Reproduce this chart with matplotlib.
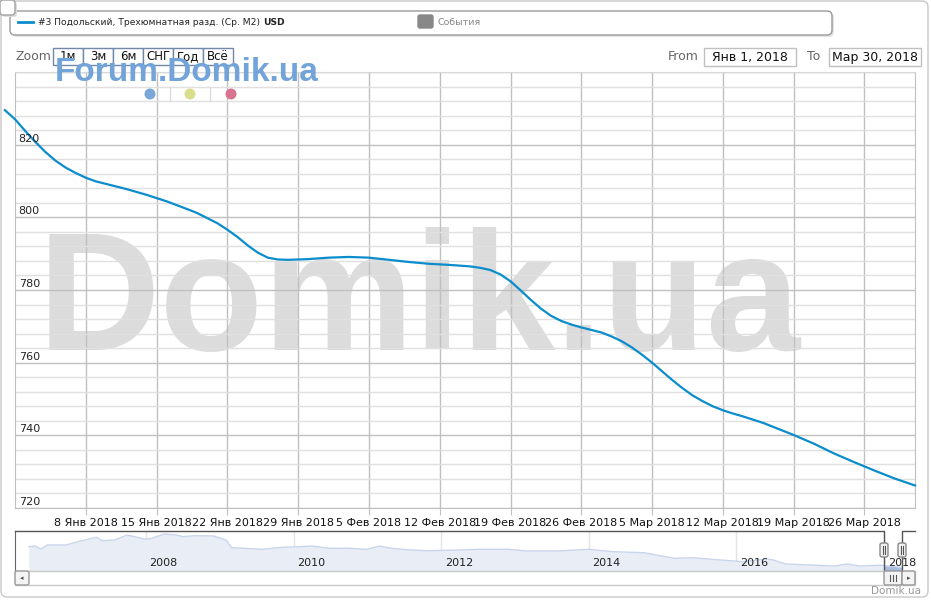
import matplotlib
matplotlib.use('Agg')
import matplotlib.pyplot as plt
import matplotlib.dates as mdates
from matplotlib.patches import FancyBboxPatch, Circle
from matplotlib.transforms import IdentityTransform
import pandas as pd

# main series, USD per m2
dates = ['2017-12-31', '2018-01-01', '2018-01-02', '2018-01-03', '2018-01-04', '2018-01-05',
         '2018-01-06', '2018-01-07', '2018-01-08', '2018-01-09', '2018-01-10', '2018-01-12',
         '2018-01-14', '2018-01-16', '2018-01-18', '2018-01-19', '2018-01-20', '2018-01-21',
         '2018-01-22', '2018-01-23', '2018-01-24', '2018-01-25', '2018-01-26', '2018-01-27',
         '2018-01-28', '2018-01-30', '2018-02-01', '2018-02-03', '2018-02-05', '2018-02-07',
         '2018-02-09', '2018-02-11', '2018-02-13', '2018-02-15', '2018-02-16', '2018-02-17',
         '2018-02-18', '2018-02-19', '2018-02-20', '2018-02-21', '2018-02-22', '2018-02-23',
         '2018-02-24', '2018-02-25', '2018-02-26', '2018-02-27', '2018-02-28', '2018-03-01',
         '2018-03-02', '2018-03-03', '2018-03-04', '2018-03-05', '2018-03-06', '2018-03-07',
         '2018-03-08', '2018-03-09', '2018-03-10', '2018-03-11', '2018-03-12', '2018-03-13',
         '2018-03-14', '2018-03-15', '2018-03-16', '2018-03-17', '2018-03-18', '2018-03-19',
         '2018-03-21', '2018-03-23', '2018-03-25', '2018-03-27', '2018-03-29', '2018-03-31']
values = [829.5, 827.0, 823.8, 820.8, 818.0, 815.6,
          813.7, 812.2, 810.9, 809.9, 809.2, 807.8,
          806.2, 804.4, 802.3, 801.2, 799.8, 798.4,
          796.6, 794.6, 792.3, 790.3, 788.9, 788.4,
          788.3, 788.5, 788.9, 789.1, 788.9, 788.3,
          787.7, 787.2, 786.9, 786.5, 786.1, 785.5,
          784.3, 782.4, 779.9, 777.3, 774.9, 772.9,
          771.5, 770.5, 769.7, 769.0, 768.3, 767.2,
          765.9, 764.2, 762.2, 760.0, 757.6, 755.2,
          753.0, 751.0, 749.4, 748.0, 746.9, 746.0,
          745.2, 744.3, 743.4, 742.3, 741.2, 740.1,
          737.7, 735.0, 732.6, 730.3, 728.1, 726.2]

# navigator overview series (long history)
nav_dates = ['2006-06', '2006-07', '2006-08', '2006-09', '2006-12', '2007-02', '2007-05', '2007-06',
             '2007-08', '2007-10', '2008-01', '2008-02', '2008-04', '2008-06', '2008-07', '2008-09',
             '2008-12', '2009-02', '2009-03', '2009-05', '2009-08', '2009-11', '2010-02', '2010-04',
             '2010-07', '2010-10', '2011-01', '2011-03', '2011-05', '2011-08', '2011-11', '2012-04',
             '2012-07', '2012-12', '2013-03', '2013-08', '2014-01', '2014-05', '2014-10', '2015-03',
             '2015-06', '2015-09', '2015-12', '2016-02', '2016-06', '2016-07', '2016-09', '2017-01',
             '2017-05', '2017-07', '2017-09', '2017-12']
nav_values = [1760, 1795, 1645, 1845, 1845, 2010, 2230, 2060,
              2095, 2345, 2130, 2180, 2395, 2345, 2260, 2310,
              2295, 2095, 1710, 1680, 1630, 1730, 1760, 1795,
              1680, 1680, 1630, 1795, 1680, 1595, 1560, 1595,
              1630, 1630, 1545, 1545, 1630, 1510, 1460, 1180,
              1210, 1130, 1060, 1010, 1145, 1095, 895, 845,
              795, 895, 795, 830]

y_ticks = [720, 740, 760, 780, 800, 820, 840]
months_ru = ['Янв', 'Фев', 'Мар', 'Апр', 'Май', 'Июн', 'Июл', 'Авг', 'Сен', 'Окт', 'Ноя', 'Дек']
zoom_buttons = ['1м', '3м', '6м', 'СНГ', 'Год', 'Всё']
legend_label = '#3 Подольский, Трехюмнатная разд. (Ср. М2) '
line_color = '#0b8dcc'

W, H = 931, 600
fig = plt.figure(figsize=(W / 100, H / 100), dpi=100)
fig.patch.set_facecolor('white')


def px(x, y):
    return x / W, 1 - y / H


def pbox(x0, y0, x1, y1, r=0, fc='white', ec='#c8c8c8', lw=1, z=5):
    # box in image pixel coords (y down)
    b = FancyBboxPatch((x0, H - y1), x1 - x0, y1 - y0,
                       boxstyle=f'round,pad=0,rounding_size={r}' if r else 'square,pad=0',
                       transform=IdentityTransform(), fc=fc, ec=ec, lw=lw, zorder=z)
    fig.patches.append(b)
    return b


# outer frame
pbox(1, 1, 928, 597, r=6, fc='none', ec='#c8c8c8', z=0)

# main plot
d = pd.to_datetime(dates)
ax = fig.add_axes([15 / W, 1 - 508 / H, 900 / W, 436 / H])
ax.set_xlim(pd.Timestamp('2018-01-01'), pd.Timestamp('2018-03-31'))
ax.set_ylim(720, 840)
ax.plot(d, values, color=line_color, lw=1.6, clip_on=False, zorder=3)

ax.set_yticks(y_ticks)
ax.set_yticks(range(720, 841, 4), minor=True)
ax.grid(which='minor', axis='y', color='#e0e0e0', lw=1)
ax.grid(which='major', axis='y', color='#c0c0c0', lw=1)
ax.tick_params(axis='y', which='both', length=0, labelleft=False)
for v in y_ticks[:-1]:
    ax.text(0.004, v + 0.3, str(v), transform=ax.get_yaxis_transform(), fontsize=8,
            color='#222', va='bottom', ha='left', zorder=4)

ticks = pd.date_range('2018-01-08', '2018-03-26', freq='7D')
ax.set_xticks(ticks)
ax.set_xticklabels([f'{t.day} {months_ru[t.month - 1]} {t.year}' for t in ticks])
ax.grid(which='major', axis='x', color='#c0c0c0', lw=1)
ax.tick_params(axis='x', length=5, color='#c0c0c0', labelsize=8, pad=2, labelcolor='#111')
for s in ['left', 'right', 'top', 'bottom']:
    ax.spines[s].set_color('#c0c0c0')
ax.spines['top'].set_color('#d8d8d8')
ax.set_axisbelow(True)

# big watermark, behind grid
ax.text(38 / W, 1 - 350 / H, 'Domik.ua', transform=fig.transFigure, fontsize=122,
        fontfamily='Liberation Sans', fontweight='bold', color='#dcdcdc', zorder=0,
        va='baseline', ha='left')

# legend box
pbox(12, 13, 834, 37, r=5, fc='#e4e4e4', ec='none', z=4)
pbox(10, 11, 832, 35, r=5, fc='white', ec='#9a9a9a', z=5)
fig.lines.append(plt.Line2D([18 / W, 33 / W], [1 - 22 / H, 1 - 22 / H], color=line_color,
                            lw=2, transform=fig.transFigure, zorder=6))
t = fig.text(*px(38, 22.5), legend_label, fontsize=6.6, va='center', ha='left', color='#222', zorder=6)
fig.canvas.draw()
bb = t.get_window_extent()
fig.text(bb.x1 / W, 1 - 22.5 / H, 'USD', fontsize=6.6, fontweight='bold', va='center', ha='left',
         color='#222', zorder=6)
pbox(418, 15, 433, 28, r=2, fc='#888888', ec='#888888', z=6)
fig.text(*px(438, 22.5), 'События', fontsize=6.8, va='center', ha='left', color='#888', zorder=6)

# top-left button
pbox(2, 2, 17, 17, r=3, fc='#dddddd', ec='none', z=6)
pbox(0, 0, 15, 15, r=3, fc='white', ec='#a0a0a0', z=7)

# zoom buttons
fig.text(*px(16, 57), 'Zoom', fontsize=9, color='#666', va='center', ha='left')
for i, lab in enumerate(zoom_buttons):
    x0 = 53 + 30 * i
    pbox(x0, 47.5, x0 + 30, 65, fc='white', ec='#7088aa', z=5)
    fig.text(*px(x0 + 15, 56.5), lab, fontsize=8.5, color='#111', va='center', ha='center', zorder=6)

# date range inputs
fig.text(*px(668, 57), 'From', fontsize=9, color='#666', va='center', ha='left')
pbox(704, 47.5, 796, 66, fc='white', ec='#c0c0c0', z=5)
fig.text(*px(750, 57), 'Янв 1, 2018', fontsize=9, color='#111', va='center', ha='center', zorder=6)
fig.text(*px(807, 57), 'To', fontsize=9, color='#666', va='center', ha='left')
pbox(829, 47.5, 921, 66, fc='white', ec='#c0c0c0', z=5)
fig.text(*px(875, 57), 'Мар 30, 2018', fontsize=9, color='#111', va='center', ha='center', zorder=6)

# forum watermark
fig.text(*px(55, 81), 'Forum.Domik.ua', fontsize=24, fontfamily='Liberation Sans',
         fontweight='bold', color='#72a3d9', va='baseline', ha='left', zorder=10)
for x, c in [(150, '#7aa6d8'), (190, '#d9de8a'), (231, '#d97490')]:
    fig.patches.append(Circle((x, H - 94), 5.5, transform=IdentityTransform(), fc=c, ec='none', zorder=10))
for x in [170, 210]:
    fig.lines.append(plt.Line2D([x / W, x / W], [1 - 88 / H, 1 - 100 / H], color='#dddddd',
                                lw=1, transform=fig.transFigure, zorder=10))

# navigator
nd = pd.to_datetime(nav_dates)
nav = fig.add_axes([15 / W, 1 - 571 / H, 900 / W, 40 / H])
nlo, nhi = 545, 2545
nav.set_xlim(pd.Timestamp('2006-03-25'), pd.Timestamp('2018-06-03'))
nav.set_ylim(nlo, nhi)
all_d = list(nd) + list(d[1:])
all_v = list(nav_values) + list(values[1:])
nav.fill_between(all_d, all_v, nlo, color='#e8edf6', lw=0)
nav.plot(all_d, all_v, color='#c9d5ea', lw=1)
nav.fill_between(d[1:], values[1:], nlo, color='#a9bde0', lw=0)
years = pd.to_datetime(['2008-01-01', '2010-01-01', '2012-01-01', '2014-01-01', '2016-01-01', '2018-01-01'])
for y in years:
    nav.axvline(y, color='#e4e4e4', lw=1, zorder=0)
    nav.text(y + pd.Timedelta(days=18), nlo + 0.2 * (nhi - nlo), str(y.year), fontsize=8,
             color='#222', va='center', ha='left')
nav.set_xticks([])
nav.set_yticks([])
for s in ['right', 'top', 'bottom']:
    nav.spines[s].set_visible(False)
nav.spines['left'].set_color('#666')
sel0, sel1 = pd.Timestamp('2018-01-01'), pd.Timestamp('2018-03-31')
nav.plot([nav.get_xlim()[0], mdates.date2num(sel0), mdates.date2num(sel0),
          mdates.date2num(sel1), mdates.date2num(sel1), nav.get_xlim()[1]],
         [nhi, nhi, nlo, nlo, nhi, nhi], color='#555', lw=1, clip_on=False, zorder=5)

# handles
for x in [884, 902]:
    pbox(x - 4, 543, x + 4, 557, r=2, fc='#f2f2f2', ec='#888', z=8)
    for dx in [-1, 1]:
        fig.lines.append(plt.Line2D([(x + dx) / W] * 2, [1 - 546 / H, 1 - 554 / H], color='#555',
                                    lw=0.8, transform=fig.transFigure, zorder=9))

# scrollbar
pbox(15, 571, 915, 585, fc='white', ec='#c8c8c8', z=3)
pbox(15, 571, 29, 585, r=2, fc='#f4f4f4', ec='#999', z=4)
pbox(884, 571, 902, 585, r=2, fc='#f4f4f4', ec='#999', z=4)
pbox(902, 571, 915, 585, r=2, fc='#f4f4f4', ec='#999', z=4)
fig.text(*px(22, 578), '◂', fontsize=5, color='#555', va='center', ha='center', zorder=6)
fig.text(*px(908.5, 578), '▸', fontsize=5, color='#555', va='center', ha='center', zorder=6)
for x in [890, 893, 896]:
    fig.lines.append(plt.Line2D([x / W] * 2, [1 - 575 / H, 1 - 581 / H], color='#555',
                                lw=0.8, transform=fig.transFigure, zorder=6))

fig.text(*px(921, 591), 'Domik.ua', fontsize=7.5, color='#999', va='center', ha='right')

fig.savefig('out.png', dpi=100)
